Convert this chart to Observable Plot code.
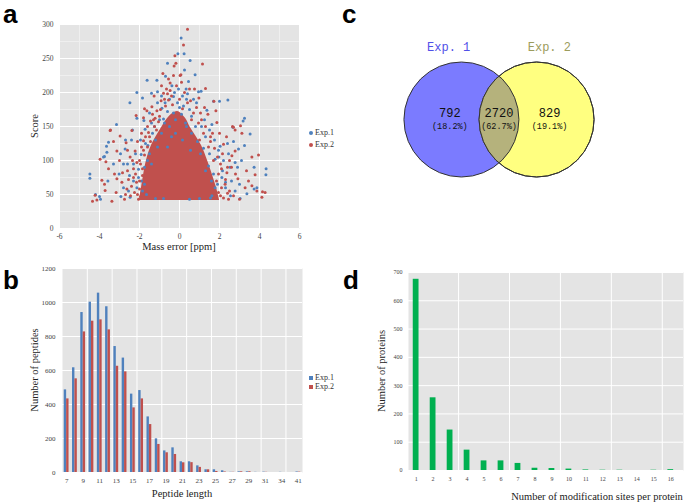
<!DOCTYPE html>
<html><head><meta charset="utf-8">
<script src="https://cdn.jsdelivr.net/npm/d3@7"></script>
<script src="https://cdn.jsdelivr.net/npm/@observablehq/plot@0.6"></script>
<style>
body{margin:0;background:#fff;}
#fig{position:relative;width:685px;height:504px;overflow:hidden;background:#fff;font-family:"Liberation Serif",serif;}
.letter{position:absolute;font-family:"Liberation Sans",Arial,sans-serif;font-weight:bold;font-size:26px;line-height:1.15;color:#000;}
.title{position:absolute;font-size:10.5px;white-space:nowrap;color:#222;line-height:1;}
.rot{transform:translate(-50%,-50%) rotate(-90deg);}
.ctr{transform:translate(-50%,-50%);}
.legend{position:absolute;font-size:8px;white-space:nowrap;color:#333;line-height:1;transform:translateY(-50%);}
.plotbox{position:absolute;}
</style></head><body><div id="fig"></div><script>
// ---------- Panel a: mass error vs score ----------
const massTicks = [-6, -4, -2, 0, 2, 4, 6];
const massMinor = [-5, -3, -1, 1, 3, 5];
const scoreTicks = [0, 50, 100, 150, 200, 250, 300];
const scoreMinor = [25, 75, 125, 175, 225, 275];
const exp1Points = [
[-0.6,243],[-0.7,224],[-0.38,210],[-1.62,218],[-2.13,200],[-2.48,185],[-1.85,192],[-1.4,199],[-1.1,201],[-0.3,194],
[-0.72,185],[-1.5,170],[-2.13,162],[-1.78,159],[-0.88,177],[-0.8,161],[-3.15,153],[0.08,280],[-0.08,257],[0.23,257],
[0.53,247],[0.25,233],[0.78,226],[0.45,216],[1.08,202],[0.33,205],[1.7,187],[2.0,187],[2.42,189],[1.37,174],
[3.25,162],[3.18,158],[1.62,153],[-3.55,127],[-2.72,117],[-3.8,105],[-3.63,112],[-4.48,80],[-4.48,74],[-4.0,47],
[-3.02,80],[-2.5,78],[-2.05,87],[-1.92,109],[-1.58,122],[-1.72,146],[-2.93,47],[-2.47,46],[-2.13,60],[3.53,139],
[3.25,122],[3.73,90],[4.33,88],[4.32,79],[3.73,58],[3.37,51],[3.03,44],[2.78,55],[2.78,97],[2.95,117],
[2.53,90],[2.12,75],[1.78,60],[1.62,48],[2.03,121],[1.78,102],[1.45,92],[3.87,60],[-3.75,106],[-3.65,121],
[-4.2,50],[-3.95,43],[-3.58,70],[1.97,105],[2.67,149],[0.95,201],[-1.13,218],[-0.5,150],[-0.2,160],[0.1,168],
[-0.9,140],[0.3,155],[-0.4,135],[0.6,140],[-1.2,130],[0.9,128],[-0.1,185],[0.2,180],[-0.6,172],[0.5,175],
[1.1,150],[-1.0,160],[-1.35,140],[1.3,135],[0.15,195],[-0.25,200],[0.7,190],[-1.5,110],[1.5,110],[-1.75,90],
[1.7,80],[-1.9,70],[1.9,65],[-2.2,110],[2.2,100],[-2.4,130],[2.4,125],[-2.6,95],[2.6,70],[-2.8,60],
[2.9,90],[-3.3,95],[3.1,100],[-1.65,50],[1.55,45],[-0.8,44],[0.5,43],[-1.2,44],[1.0,44],[-0.05,205],
[0.35,190],[-0.9,195],[0.6,165],[-1.25,150],[1.2,118],[-1.6,100],[-2.3,70],[2.3,60],[-2.7,130],[2.45,110],
[-2.3,95],[-2.05,75],[-1.85,55],[-1.95,130],[-1.7,125],[-1.4,155],[-1.1,185],[-0.5,190],[0.0,178],[0.4,198],
[0.85,185],[1.25,160],[1.5,145],[1.75,130],[1.95,115],[2.15,85],[2.3,68],[2.55,48],[-2.55,55],[-2.8,95],
[-2.95,110],[-2.35,145],[2.7,128],[3.0,65],[-0.3,170],[0.35,150],[-0.75,155],[0.8,150],[-1.1,120],[1.05,110],
[-1.4,95],[1.3,85],[-0.2,140],[0.15,130],[-0.6,120],[0.55,115],[-1.75,65],[1.6,70]
];
const exp2Points = [
[0.4,293],[0.2,270],[-0.23,254],[-0.18,243],[-0.27,239],[-0.83,228],[-0.55,220],[-0.47,214],[-1.27,195],[-0.8,199],
[-0.47,203],[-0.55,189],[-0.92,188],[-1.75,176],[-1.63,173],[-1.38,179],[-2.17,166],[-1.8,163],[-1.13,173],[-1.22,162],
[-1.05,157],[-3.45,145],[1.15,242],[0.07,226],[1.3,206],[0.97,192],[1.82,173],[1.25,178],[1.42,168],[3.05,151],
[2.65,150],[2.78,145],[1.87,156],[-3.47,144],[-2.97,136],[-3.3,128],[-3.13,114],[-2.67,126],[-2.38,144],[-3.97,102],
[-3.68,98],[-3.88,71],[-3.75,65],[-3.72,56],[-4.22,49],[-4.35,40],[-4.13,42],[-3.38,40],[-3.25,80],[-3.13,73],
[-2.88,68],[-2.63,58],[-2.3,88],[-2.13,97],[-1.85,78],[-2.47,105],[-2.22,114],[-1.8,129],[-1.55,141],[-3.17,53],
[-2.75,43],[-2.25,53],[-2.05,43],[3.12,140],[2.7,149],[3.62,105],[3.95,108],[3.78,79],[4.15,54],[3.87,55],
[3.62,63],[3.28,60],[3.0,43],[2.7,48],[2.92,73],[2.78,114],[2.62,107],[2.37,82],[2.28,65],[1.95,53],
[2.45,43],[2.2,124],[4.28,53],[4.12,46],[1.72,187],[0.03,225],[-2.0,70],[-1.95,95],[-1.8,115],[-1.5,135],
[-1.25,150],[-1.0,165],[-0.7,180],[0.4,185],[0.7,170],[0.95,155],[1.2,140],[1.45,120],[1.7,100],[1.95,80],
[2.1,60],[2.2,45],[-2.1,50],[-2.3,75],[2.4,90],[2.5,55],[-0.35,182],[0.15,176],[-0.6,198],[0.6,160],
[1.05,170],[-1.45,158],[-1.6,120],[1.55,135],[-2.6,85],[2.05,95],[-3.0,100],[3.35,85],[-3.55,88],[3.45,70],
[-2.4,62],[-2.2,80],[-2.0,100],[-1.9,120],[-1.7,135],[-2.35,100],[-2.55,72],[-2.0,58],[-1.85,88],[-1.75,108],
[-1.6,150],[-1.3,160],[-1.15,145],[-0.95,175],[-0.75,190],[-2.7,50],[-2.45,48],[-1.95,47],[-2.15,68],[-2.6,115],
[-2.85,82],[-2.1,128],[-1.45,128],[-1.9,140],[-1.35,168],[2.3,72],[2.1,88],[1.9,105],[1.75,118],[1.55,128],
[2.4,52],[2.05,48],[1.85,70],[2.15,110],[1.3,150],[1.1,160],[0.85,178],[0.55,188],[2.6,90],[2.8,80],
[2.5,100],[1.65,140],[2.35,135],[1.0,130],[2.0,140],[-0.4,195],[0.0,190],[0.25,200],[-0.15,210],[0.5,205],
[-0.65,205],[0.1,215],[-0.3,225],[0.75,205],[-0.9,210]
];
const coreMass = [-2.0, -1.9, -1.65, -1.4, -0.9, -0.5, -0.1, 0.3, 0.55, 1.1, 1.4, 1.85, 2.0];
const coreTop  = [42, 60, 100, 122, 148, 165, 172, 162, 148, 122, 100, 60, 42];
const coreBase = 41;

// ---------- Panel b: peptide length distribution ----------
const peptideLengths = [7,8,9,10,11,12,13,14,15,16,17,18,19,20,21,22,23,24,25,26,27,28,29,30,31,32,34,35,41];
const exp1Peptides = [486,616,941,1002,1055,975,741,673,461,482,327,198,127,145,63,63,39,16,16,10,1,4,4,1,2,0,1,0,3];
const exp2Peptides = [433,551,827,890,898,839,625,592,380,433,282,165,116,106,57,58,30,16,6,3,1,4,4,0,1,0,0,0,2];
const peptideTicks = [0,200,400,600,800,1000,1200];

// ---------- Panel c: Venn ----------
const vennSetNames = ["Exp. 1", "Exp. 2"];
const vennCounts = [792, 2720, 829];
const vennPercents = ["18.2%", "62.7%", "19.1%"];

// ---------- Panel d: modification sites per protein ----------
const siteCounts = [1,2,3,4,5,6,7,8,9,10,11,12,13,14,15,16];
const proteinNumbers = [676,257,143,72,34,34,25,8,7,5,2,1,1,0,1,3];
const proteinTicks = [0,100,200,300,400,500,600,700];

const BLUE = "#4f81bd", RED = "#c0504d", GREEN = "#00b050", BG = "#e4e4e4";
const plain = d => String(d);
const fig = document.getElementById("fig");
function put(node, left, top) { const d = document.createElement("div"); d.className = "plotbox"; d.style.left = left + "px"; d.style.top = top + "px"; d.appendChild(node); fig.appendChild(d); }
function text(str, cls, x, y, extra) { const d = document.createElement("div"); d.className = cls; d.textContent = str; d.style.left = x + "px"; d.style.top = y + "px"; if (extra) Object.assign(d.style, extra); fig.appendChild(d); return d; }
function legend(items, left, top, gap, round) {
  items.forEach((it, k) => {
    const d = document.createElement("div"); d.className = "legend";
    d.style.left = left + "px"; d.style.top = (top + k * gap) + "px";
    const m = document.createElement("span");
    m.style.cssText = `display:inline-block;width:4px;height:4px;background:${it.color};margin-right:2px;vertical-align:middle;${round ? "border-radius:50%;" : ""}`;
    d.appendChild(m); d.appendChild(document.createTextNode(it.name)); fig.appendChild(d);
  });
}

// Panel a
const plotA = Plot.plot({
  width: 340, height: 250, marginLeft: 59, marginRight: 41, marginTop: 24, marginBottom: 22,
  style: {fontFamily: "Liberation Serif", fontSize: "7.5px", color: "#444", background: "transparent"},
  x: {domain: [-6, 6]}, y: {domain: [0, 300]},
  marks: [
    Plot.frame({fill: BG, stroke: null}),
    Plot.ruleX(massMinor, {stroke: "#efefef", strokeWidth: 1}),
    Plot.ruleY(scoreMinor, {stroke: "#efefef", strokeWidth: 1}),
    Plot.ruleX(massTicks, {stroke: "#fff", strokeWidth: 1}),
    Plot.ruleY(scoreTicks, {stroke: "#fff", strokeWidth: 1}),
    Plot.areaY(coreMass.map((m, i) => ({m, top: coreTop[i]})), {x: "m", y1: coreBase, y2: "top", fill: RED, curve: "catmull-rom"}),
    Plot.dot(exp1Points, {x: d => d[0], y: d => d[1], r: 1.5, fill: BLUE, stroke: null}),
    Plot.dot(exp2Points, {x: d => d[0], y: d => d[1], r: 1.5, fill: RED, stroke: null}),
    Plot.axisX({ticks: massTicks, tickFormat: plain, tickSize: 0, tickPadding: 5, label: null}),
    Plot.axisY({ticks: scoreTicks, tickFormat: plain, tickSize: 0, tickPadding: 6, label: null})
  ]
});
put(plotA, 0, 0);
text("Score", "title rot", 35, 126);
text("Mass error [ppm]", "title ctr", 179, 247);
legend([{name: "Exp.1", color: BLUE}, {name: "Exp.2", color: RED}], 309, 133, 12, true);

// Panel b
const idxB = peptideLengths.map((_, i) => i);
const labelIdxB = idxB.filter(i => i % 2 === 0);
const plotB = Plot.plot({
  width: 340, height: 249, marginLeft: 62, marginRight: 38, marginTop: 13, marginBottom: 32,
  style: {fontFamily: "Liberation Serif", fontSize: "7px", color: "#444", background: "transparent"},
  x: {domain: [-0.5, peptideLengths.length - 0.5]}, y: {domain: [0, 1200]},
  marks: [
    Plot.frame({fill: BG, stroke: null}),
    Plot.ruleX(idxB.filter(i => i % 3 === 2 && i < peptideLengths.length - 1), {x: i => i + 0.5, stroke: "#fff"}),
    Plot.ruleY(peptideTicks, {stroke: "#fff"}),
    Plot.rectY(idxB, {x1: i => i - 0.29, x2: i => i, y1: 0, y2: i => exp1Peptides[i], fill: BLUE}),
    Plot.rectY(idxB, {x1: i => i, x2: i => i + 0.29, y1: 0, y2: i => exp2Peptides[i], fill: RED}),
    Plot.axisX({ticks: labelIdxB, tickFormat: i => String(peptideLengths[i]), tickSize: 0, tickPadding: 6, label: null}),
    Plot.axisY({ticks: peptideTicks, tickFormat: plain, tickSize: 0, tickPadding: 7, label: null})
  ]
});
put(plotB, 0, 255);
text("Number of peptides", "title rot", 35, 370);
text("Peptide length", "title ctr", 182, 494);
legend([{name: "Exp.1", color: BLUE}, {name: "Exp.2", color: RED}], 309, 378, 9, false);

// Panel c (Venn)
const vennOffset = 0.237, vennR = 57.5;
const vennCircles = [{x: -vennOffset, y: 0, name: vennSetNames[0]}, {x: vennOffset, y: 0, name: vennSetNames[1]}];
const regionX = [-0.31, 0, 0.319];
const regions = vennCounts.map((c, i) => ({x: regionX[i], count: String(c), pct: "(" + vennPercents[i] + ")"}));
const plotC = Plot.plot({
  width: 345, height: 250, marginLeft: 0, marginRight: 28, marginTop: 0, marginBottom: 12,
  style: {background: "transparent"},
  x: {domain: [-1, 1], axis: null}, y: {domain: [-1, 1], axis: null},
  marks: [
    Plot.dot([vennCircles[0]], {x: "x", y: "y", r: vennR, fill: "#7b7bff", stroke: "#333", strokeWidth: 1}),
    Plot.dot([vennCircles[1]], {x: "x", y: "y", r: vennR, fill: "#ffff80", stroke: "#333", strokeWidth: 1}),
    Plot.dot([vennCircles[0]], {x: "x", y: "y", r: vennR, fill: "#b5b27c", stroke: "#333", strokeWidth: 1}),
    Plot.dot([vennCircles[1]], {x: "x", y: "y", r: vennR, fill: "none", stroke: "#333", strokeWidth: 1}),
    Plot.text(vennCircles, {x: d => d.x * 1.34, y: 0.608, text: "name", fill: (d, i) => i === 0 ? "#5050e8" : "#9c9c5c", fontFamily: "Liberation Mono", fontSize: 12}),
    Plot.text(regions, {x: "x", y: 0.055, text: "count", fill: "#111", fontFamily: "Liberation Mono", fontSize: 12}),
    Plot.text(regions, {x: "x", y: -0.06, text: "pct", fill: "#111", fontFamily: "Liberation Mono", fontSize: 8.5})
  ]
});
{
  const groups = plotC.querySelectorAll('g[aria-label="dot"]');
  const ns = "http://www.w3.org/2000/svg";
  const cp = document.createElementNS(ns, "clipPath");
  cp.setAttribute("id", "vennLensClip");
  const src = groups[1].querySelector("circle, path");
  cp.appendChild(src.cloneNode(true));
  plotC.appendChild(cp);
  groups[2].setAttribute("clip-path", "url(#vennLensClip)");
}
put(plotC, 340, 0);

// Panel d
const plotD = Plot.plot({
  width: 345, height: 249, marginLeft: 68, marginRight: 2, marginTop: 17, marginBottom: 34,
  style: {fontFamily: "Liberation Serif", fontSize: "6px", color: "#444", background: "transparent"},
  x: {domain: [0.55, 16.75]}, y: {domain: [0, 700]},
  marks: [
    Plot.frame({fill: BG, stroke: null}),
    Plot.ruleX(siteCounts.filter(s => s % 3 === 0), {x: s => s + 0.5, stroke: "#fff"}),
    Plot.ruleY(proteinTicks, {stroke: "#fff"}),
    Plot.rectY(siteCounts, {x1: s => s - 0.17, x2: s => s + 0.17, y1: 0, y2: (s, i) => proteinNumbers[i], fill: GREEN}),
    Plot.axisX({ticks: siteCounts, tickFormat: plain, tickSize: 0, tickPadding: 6, label: null}),
    Plot.axisY({ticks: proteinTicks, tickFormat: plain, tickSize: 0, tickPadding: 6, label: null})
  ]
});
put(plotD, 340, 255);
text("Number of proteins", "title rot", 382, 371);
text("Number of modification sites per protein", "title ctr", 597, 497);

// panel letters
text("a", "letter", 3, 0);
text("b", "letter", 3, 266);
text("c", "letter", 342, 0);
text("d", "letter", 343, 266);
</script></body></html>
